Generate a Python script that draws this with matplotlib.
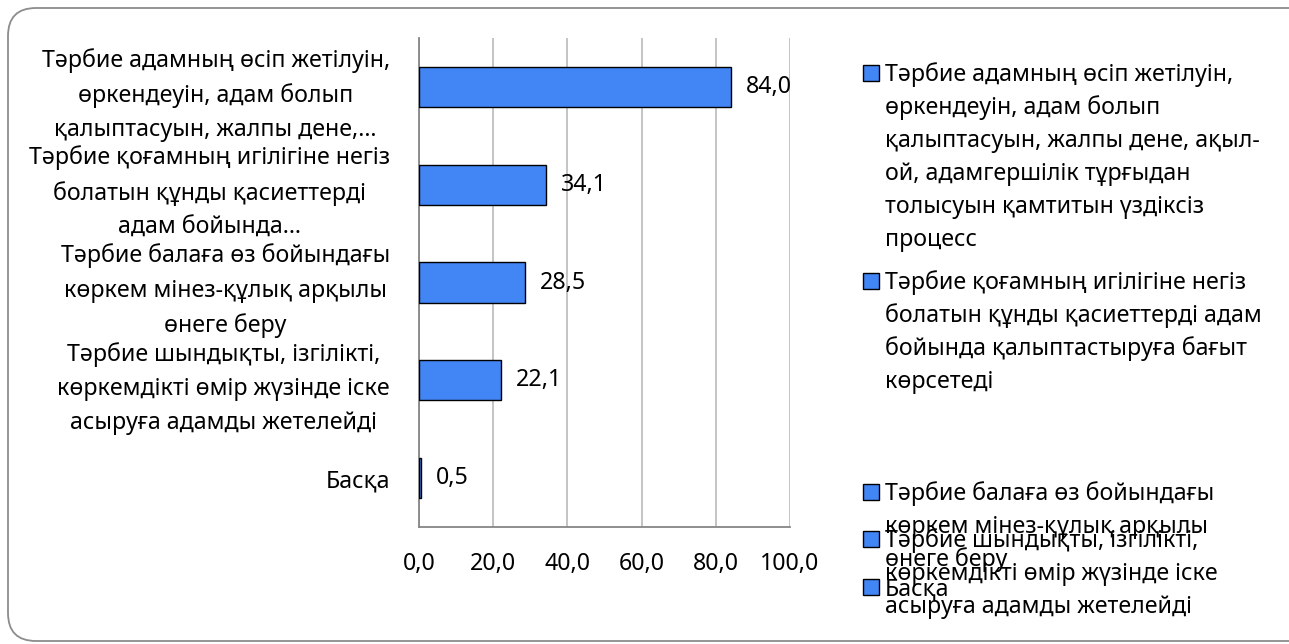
import matplotlib
matplotlib.use("Agg")
import matplotlib.pyplot as plt
from matplotlib.patches import FancyBboxPatch, Rectangle
from matplotlib.transforms import IdentityTransform
from matplotlib.ticker import FuncFormatter

plt.rcParams['font.family'] = ['Noto Sans', 'DejaVu Sans']

# full answer wording (legend)
answers = [
    "Тәрбие адамның өсіп жетілуін,\nөркендеуін, адам болып\nқалыптасуын, жалпы дене, ақыл-\nой, адамгершілік тұрғыдан\nтолысуын қамтитын үздіксіз\nпроцесс",
    "Тәрбие қоғамның игілігіне негіз\nболатын құнды қасиеттерді адам\nбойында қалыптастыруға бағыт\nкөрсетеді",
    "Тәрбие балаға өз бойындағы\nкөркем мінез-құлық арқылы\nөнеге беру",
    "Тәрбие шындықты, ізгілікті,\nкөркемдікті өмір жүзінде іске\nасыруға адамды жетелейді",
    "Басқа",
]
# shortened answers on the category axis
short_labels = [
    "Тәрбие адамның өсіп жетілуін,\nөркендеуін, адам болып\nқалыптасуын, жалпы дене,…",
    "Тәрбие қоғамның игілігіне негіз\nболатын құнды қасиеттерді\nадам бойында…",
    "Тәрбие балаға өз бойындағы\nкөркем мінез-құлық арқылы\nөнеге беру",
    "Тәрбие шындықты, ізгілікті,\nкөркемдікті өмір жүзінде іске\nасыруға адамды жетелейді",
    "Басқа",
]
percent = [84.0, 34.1, 28.5, 22.1, 0.5]
x_ticks = [0, 20, 40, 60, 80, 100]

W, H = 1289, 644
FS = 16.7
BLUE = '#4285F4'


def comma(v, pos=None):
    return f"{v:.1f}".replace('.', ',')


fig = plt.figure(figsize=(W / 100, H / 100), dpi=100)

# rounded outer frame, in pixels (right side runs off the canvas)
frame = FancyBboxPatch((8, 3), 1310, 633, boxstyle='round,pad=0,rounding_size=28',
                       transform=IdentityTransform(), facecolor='none',
                       edgecolor='#8c8c8c', linewidth=1.3)
fig.add_artist(frame)

ax = fig.add_axes([419 / W, 1 - 527 / H, (790 - 419) / W, (527 - 38) / H])
bars = ax.barh(range(len(percent)), percent, height=0.41, color=BLUE,
               edgecolor='black', linewidth=1.0, zorder=3)
ax.set_ylim(len(percent) - 0.5, -0.5)
ax.set_xlim(0, 100)
ax.set_xticks(x_ticks)
ax.xaxis.set_major_formatter(FuncFormatter(comma))
ax.grid(axis='x', color='#BFBFBF', linewidth=1.3, zorder=0)
ax.set_axisbelow(True)
for s in ('top', 'right'):
    ax.spines[s].set_visible(False)
for s in ('left', 'bottom'):
    ax.spines[s].set_color('#868686')
    ax.spines[s].set_linewidth(1.3)
ax.tick_params(length=0, labelsize=FS)
ax.tick_params(axis='x', pad=18)
ax.tick_params(axis='y', pad=21)
ax.set_yticks(range(len(percent)))
ax.set_yticklabels(short_labels, multialignment='center', linespacing=1.56)
ax.bar_label(bars, labels=[comma(v) for v in percent], padding=11, fontsize=FS)

# legend drawn by hand: squeezed entries overlap at the bottom
entry_y = [73, 281, 492, 539, 587]
pitch = 33
for text, y0 in zip(answers, entry_y):
    fig.add_artist(Rectangle((863, H - (y0 + 8)), 16, 16, transform=IdentityTransform(),
                             facecolor=BLUE, edgecolor='black', linewidth=1.0))
    for i, line in enumerate(text.split('\n')):
        fig.text(885 / W, 1 - (y0 + i * pitch + 8) / H, line, fontsize=FS, va='baseline')

fig.savefig('out.png', dpi=100)
